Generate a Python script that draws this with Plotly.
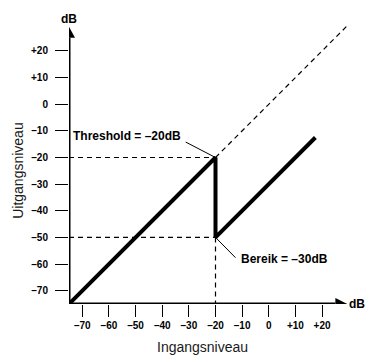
import plotly.graph_objects as go

# ---- data ----
threshold_db = -20
range_db = -30
curve_in = [-75, -20, -20, 17.5]
curve_out = [-75, -20, -50, -12.5]
unity_in = [-20, 30]
unity_out = [-20, 30]
axis_min = -75
axis_max = 25
tick_vals = [-70, -60, -50, -40, -30, -20, -10, 0, 10, 20]
tick_text = ["\u201370", "\u201360", "\u201350", "\u201340", "\u201330", "\u201320",
             "\u201310", "0", "+10", "+20"]
x_title = "Ingangsniveau"
y_title = "Uitgangsniveau"

floor_db = threshold_db + range_db  # -50
title_center = (tick_vals[0] + tick_vals[-1]) / 2  # -25

FONT = "Liberation Sans, Arial, Helvetica, sans-serif"
BLACK = "#000000"

fig = go.Figure()

# unity (no processing) dashed line
fig.add_trace(go.Scatter(x=unity_in, y=unity_out, mode="lines",
                         line=dict(color=BLACK, width=1.2, dash="5px,4px"),
                         hoverinfo="skip"))
# guide lines
fig.add_trace(go.Scatter(x=[axis_min, threshold_db], y=[threshold_db, threshold_db], mode="lines",
                         line=dict(color=BLACK, width=1.2, dash="5px,4px"), hoverinfo="skip"))
fig.add_trace(go.Scatter(x=[axis_min, threshold_db], y=[floor_db, floor_db], mode="lines",
                         line=dict(color=BLACK, width=1.2, dash="5px,4px"), hoverinfo="skip"))
fig.add_trace(go.Scatter(x=[threshold_db, threshold_db], y=[floor_db, axis_min], mode="lines",
                         line=dict(color=BLACK, width=1.2, dash="5px,4px"), hoverinfo="skip"))
# gate curve
fig.add_trace(go.Scatter(x=curve_in, y=curve_out, mode="lines",
                         line=dict(color=BLACK, width=4), hoverinfo="skip"))

# axis lines
fig.add_shape(type="line", x0=axis_min, y0=axis_min, x1=axis_max, y1=axis_min,
              line=dict(color=BLACK, width=3))
fig.add_shape(type="line", x0=axis_min, y0=axis_min, x1=axis_min, y1=axis_max,
              line=dict(color=BLACK, width=3))
# arrowheads
fig.add_shape(type="path", xsizemode="pixel", ysizemode="pixel",
              xanchor=axis_min, yanchor=axis_max,
              path="M-6,0 L6,0 L0,11 Z", fillcolor=BLACK, line=dict(width=0))
fig.add_shape(type="path", xsizemode="pixel", ysizemode="pixel",
              xanchor=axis_max, yanchor=axis_min,
              path="M0,-6 L0,6 L12,0 Z", fillcolor=BLACK, line=dict(width=0))

# leader lines
fig.add_shape(type="line", x0=-31.2, y0=-14.2, x1=threshold_db, y1=threshold_db,
              line=dict(color=BLACK, width=1))
fig.add_shape(type="line", x0=threshold_db, y0=floor_db, x1=-12.5, y1=-57.6,
              line=dict(color=BLACK, width=1))

ann_font = dict(family=FONT, size=12, color=BLACK, weight="bold")
fig.add_annotation(x=-32.3, y=-11.9, text="Threshold = \u2013" + str(abs(threshold_db)) + "dB",
                   showarrow=False, xanchor="right", yanchor="middle", font=ann_font)
fig.add_annotation(x=-11.0, y=-58.2, text="Bereik = \u2013" + str(abs(range_db)) + "dB",
                   showarrow=False, xanchor="left", yanchor="middle", font=ann_font)
fig.add_annotation(x=axis_min, y=axis_max, text="dB", showarrow=False,
                   xanchor="center", yanchor="bottom", yshift=10, font=ann_font)
fig.add_annotation(x=axis_max, y=axis_min, text="dB", showarrow=False,
                   xanchor="left", yanchor="middle", xshift=12, font=ann_font)

# axis titles (centred on the labelled tick span)
title_font = dict(family=FONT, size=14, color="#1a1a1a")
fig.add_annotation(x=title_center, xref="x", y=axis_min, yref="y", text=x_title,
                   showarrow=False, xanchor="center", yanchor="middle", yshift=-43,
                   font=title_font)
fig.add_annotation(x=axis_min, xref="x", y=title_center, yref="y", text=y_title,
                   showarrow=False, xanchor="center", yanchor="middle", xshift=-51,
                   textangle=-90, font=title_font)

tick_font = dict(family=FONT, size=10, color=BLACK, weight="bold")
fig.update_xaxes(range=[-75, 32], tickvals=tick_vals, ticktext=tick_text,
                 ticks="outside", ticklen=12, tickwidth=1.3, tickcolor=BLACK,
                 showgrid=False, zeroline=False, showline=False, tickfont=tick_font,
                 automargin=False)
fig.update_yaxes(range=[-75, 32], tickvals=tick_vals, ticktext=tick_text,
                 ticks="outside", ticklen=13, tickwidth=1.3, tickcolor=BLACK,
                 showgrid=False, zeroline=False, showline=False, tickfont=tick_font,
                 ticklabelstandoff=5, automargin=False)

fig.update_layout(width=369, height=356, margin=dict(l=69, r=15, t=19, b=52),
                  paper_bgcolor="white", plot_bgcolor="white", showlegend=False)

fig.write_html("out.html", config={"displayModeBar": False},
               post_script="document.body.style.margin='0';document.body.style.overflow='hidden';")
